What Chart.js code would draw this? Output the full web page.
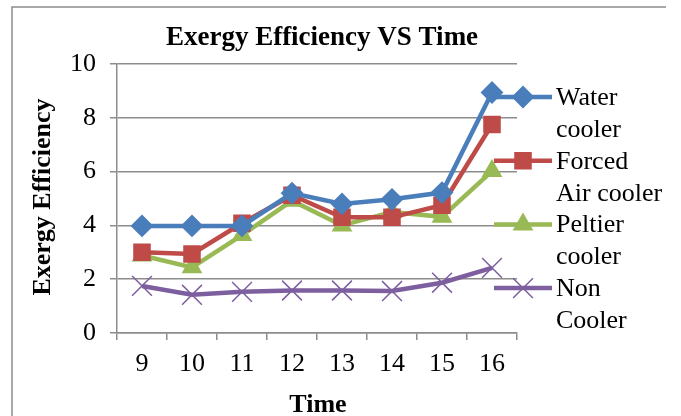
<!DOCTYPE html>
<html>
<head>
<meta charset="utf-8">
<title>Exergy Efficiency VS Time</title>
<script src="https://cdn.jsdelivr.net/npm/chart.js@4/dist/chart.umd.min.js"></script>
<style>
    body { margin: 0; background: #ffffff; }
    #chart-container { width: 681px; height: 416px; }
</style>
</head>
<body>
<div id="chart-container"><canvas id="myChart" width="681" height="416"></canvas></div>
<script>
// data
const times = ['9', '10', '11', '12', '13', '14', '15', '16'];
const waterCooler = [3.98, 3.98, 3.98, 5.2, 4.8, 4.97, 5.22, 8.94];
const forcedAirCooler = [3.0, 2.94, 4.08, 5.12, 4.3, 4.3, 4.75, 7.75];
const peltierCooler = [2.88, 2.44, 3.64, 4.92, 4.0, 4.5, 4.32, 6.02];
const nonCooler = [1.75, 1.42, 1.53, 1.58, 1.58, 1.56, 1.87, 2.42];
const yTicks = [0, 2, 4, 6, 8, 10];

// legend text is wrapped on two lines like in the original
const legendLines = [['Water', 'cooler'], ['Forced', 'Air cooler'], ['Peltier', 'cooler'], ['Non', 'Cooler']];

const FONT = "'Liberation Serif', 'Times New Roman', serif";
const GRID = '#8c8c8c';

window.onload = initialize;

function initialize() {
    const datasets = [
        makeSeries(legendLines[0].join(' '), waterCooler, '#4a7ebb', 'rectRot', 10, 2),
        makeSeries(legendLines[1].join(' '), forcedAirCooler, '#be4b48', 'rect', 11, 2),
        makeSeries(legendLines[2].join(' '), peltierCooler, '#98b954', 'triangle', 10, 2),
        makeSeries(legendLines[3].join(' '), nonCooler, '#7d5fa0', 'crossRot', 14, 1.5)
    ];

    const config = {
        type: 'line',
        data: { labels: times, datasets: datasets },
        options: {
            responsive: false,
            animation: false,
            devicePixelRatio: 1,
            layout: { padding: { top: 64, right: 164, left: 0, bottom: 0 } },
            plugins: {
                legend: { display: false },
                title: { display: false },
                tooltip: { enabled: false }
            },
            scales: {
                x: {
                    type: 'category',
                    offset: true,
                    grid: {
                        offset: true,
                        drawOnChartArea: false,
                        tickLength: 7,
                        color: GRID,
                        lineWidth: 1.5
                    },
                    border: { color: GRID, width: 1.5 },
                    ticks: { font: { family: FONT, size: 26 }, color: '#000', padding: 9 },
                    afterFit: function(scale) { scale.height = 83; }
                },
                y: {
                    min: 0,
                    max: 10,
                    afterBuildTicks: function(scale) {
                        scale.ticks = yTicks.map(v => ({ value: v }));
                    },
                    grid: { tickLength: 7, color: GRID, lineWidth: 1.5 },
                    border: { color: GRID, width: 1.5 },
                    ticks: { font: { family: FONT, size: 26 }, color: '#000', padding: 14 },
                    afterFit: function(scale) { scale.width = 117; }
                }
            }
        },
        plugins: [framePlugin]
    };

    new Chart(document.getElementById('myChart'), config);
}

function makeSeries(label, values, color, style, radius, markerBorder) {
    return {
        label: label,
        data: values,
        borderColor: color,
        backgroundColor: color,
        borderWidth: 4.5,
        pointStyle: style,
        pointRadius: radius,
        pointBorderWidth: markerBorder,
        pointBackgroundColor: color,
        pointBorderColor: color,
        tension: 0
    };
}

// white background, outer frame, titles and the overlapping legend
const framePlugin = {
    id: 'framePlugin',
    beforeDraw(chart) {
        const ctx = chart.ctx;
        ctx.save();
        ctx.fillStyle = '#ffffff';
        ctx.fillRect(0, 0, chart.width, chart.height);
        ctx.strokeStyle = '#8c8c8c';
        ctx.lineWidth = 1.5;
        ctx.beginPath();
        ctx.moveTo(12, chart.height);
        ctx.lineTo(12, 7);
        ctx.lineTo(666, 7);
        ctx.stroke();
        ctx.restore();
    },
    afterDraw(chart) {
        const ctx = chart.ctx;
        ctx.save();
        ctx.fillStyle = '#000';
        ctx.textAlign = 'center';
        ctx.textBaseline = 'middle';

        ctx.font = 'bold 27px ' + FONT;
        ctx.fillText('Exergy Efficiency VS Time', 322, 38);

        ctx.font = 'bold 26px ' + FONT;
        ctx.fillText('Time', 318, 405);

        ctx.save();
        ctx.translate(43, 197);
        ctx.rotate(-Math.PI / 2);
        ctx.fillText('Exergy Efficiency', 0, 0);
        ctx.restore();

        // legend
        const sets = chart.data.datasets;
        ctx.textAlign = 'left';
        ctx.font = '26px ' + FONT;
        for (let i = 0; i < sets.length; i++) {
            const ds = sets[i];
            const y = 97 + i * 63.7;
            ctx.strokeStyle = ds.borderColor;
            ctx.lineWidth = ds.borderWidth;
            ctx.beginPath();
            ctx.moveTo(494, y);
            ctx.lineTo(552, y);
            ctx.stroke();
            ctx.fillStyle = ds.pointBackgroundColor;
            ctx.strokeStyle = ds.pointBorderColor;
            ctx.lineWidth = ds.pointBorderWidth;
            Chart.helpers.drawPoint(ctx, {
                pointStyle: ds.pointStyle,
                radius: ds.pointRadius,
                rotation: 0,
                borderWidth: ds.pointBorderWidth
            }, 523, y);
            ctx.fillStyle = '#000';
            ctx.fillText(legendLines[i][0], 556, y + 1);
            ctx.fillText(legendLines[i][1], 556, y + 33);
        }
        ctx.restore();
    }
};
</script>
</body>
</html>
